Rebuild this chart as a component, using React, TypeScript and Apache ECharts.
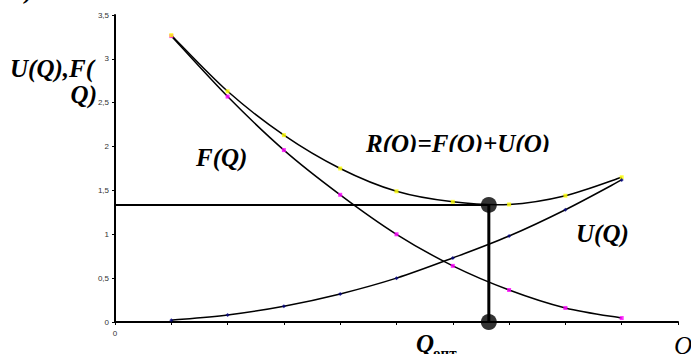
import React, { useEffect, useRef } from "react";
import * as echarts from "echarts";

const qValues = [1, 2, 3, 4, 5, 6, 7, 8, 9];
const fValues = [3.26, 2.57, 1.96, 1.45, 1.0, 0.64, 0.365, 0.16, 0.045];
const uValues = [0.02, 0.08, 0.18, 0.32, 0.5, 0.73, 0.98, 1.28, 1.62];
const rValues = [3.27, 2.63, 2.13, 1.75, 1.49, 1.37, 1.34, 1.44, 1.65];
const optQ = 6.64;
const optR = 1.335;
const yTicks = [0, 0.5, 1, 1.5, 2, 2.5, 3, 3.5];

const SERIF = "'Liberation Serif', 'Times New Roman', serif";
const SANS = "'Liberation Sans', Arial, sans-serif";

export default function App() {
  const ref = useRef<HTMLDivElement>(null);
  useEffect(() => {
    if (!ref.current) return;
    const chart = echarts.init(ref.current, null, { renderer: "svg" });
    const pts = (ys: number[]) => qValues.map((q, i) => [q, ys[i]]);

    // smooth curve through the points (Catmull-Rom segments as bezier curves)
    const curveSeries = (ys: number[]) => ({
      type: "custom",
      data: pts(ys),
      z: 3,
      silent: true,
      renderItem: (params: any, api: any) => {
        const i = params.dataIndex;
        const n = qValues.length;
        if (i >= n - 1) return null;
        const c = (k: number) => {
          const kk = Math.max(0, Math.min(n - 1, k));
          return api.coord([qValues[kk], ys[kk]]);
        };
        const p0 = c(i - 1);
        const p1 = c(i);
        const p2 = c(i + 1);
        const p3 = c(i + 2);
        const t = 6;
        const cp1 = [p1[0] + (p2[0] - p0[0]) / t, p1[1] + (p2[1] - p0[1]) / t];
        const cp2 = [p2[0] - (p3[0] - p1[0]) / t, p2[1] - (p3[1] - p1[1]) / t];
        return {
          type: "bezierCurve",
          shape: {
            x1: p1[0],
            y1: p1[1],
            x2: p2[0],
            y2: p2[1],
            cpx1: cp1[0],
            cpy1: cp1[1],
            cpx2: cp2[0],
            cpy2: cp2[1],
          },
          style: { stroke: "#000", lineWidth: 1.5, fill: null },
        };
      },
    });
    const markerSeries = (ys: number[], color: string, symbol: string) => ({
      type: "scatter",
      data: pts(ys),
      symbol,
      symbolSize: 4,
      itemStyle: { color },
      z: 4,
    });
    const bigText = (text: string, x: number, y: number, size = 25, align = "left", bold = true, italic = true) => ({
      type: "text",
      x,
      y,
      z: 100,
      style: {
        text,
        fill: "#000",
        font: `${italic ? "italic " : ""}${bold ? "bold " : ""}${size}px ${SERIF}`,
        textAlign: align,
        textVerticalAlign: "middle",
      },
    });
    chart.setOption({
      animation: false,
      backgroundColor: "#fff",
      grid: { left: 115, top: 15, right: 13, bottom: 32, containLabel: false },
      xAxis: {
        type: "value",
        min: 0,
        max: 10,
        interval: 1,
        axisLine: { show: true, lineStyle: { color: "#000", width: 2 } },
        axisTick: { show: true, length: 3, lineStyle: { color: "#000", width: 1 } },
        axisLabel: {
          formatter: (v: number) => (v === 0 ? "0" : ""),
          color: "#333",
          fontSize: 8,
          fontFamily: SANS,
          margin: 7,
        },
        splitLine: { show: false },
      },
      yAxis: {
        type: "value",
        min: 0,
        max: 3.5,
        interval: 0.5,
        axisLine: { show: true, lineStyle: { color: "#000", width: 2 } },
        axisTick: { show: true, length: 3, lineStyle: { color: "#000", width: 1 } },
        axisLabel: {
          formatter: (v: number) => (yTicks.includes(v) ? String(v).replace(".", ",") : ""),
          color: "#333",
          fontSize: 8,
          fontFamily: SANS,
          margin: 6,
        },
        splitLine: { show: false },
      },
      series: [
        curveSeries(fValues),
        curveSeries(rValues),
        curveSeries(uValues),
        markerSeries(fValues, "#ff00ff", "rect"),
        markerSeries(rValues, "#ffff00", "rect"),
        markerSeries(uValues, "#000080", "diamond"),
        {
          type: "line",
          data: [[0, optR], [optQ, optR]],
          symbol: "none",
          lineStyle: { color: "#000", width: 2 },
          z: 4,
        },
        {
          type: "line",
          data: [[optQ, optR], [optQ, 0]],
          symbol: "none",
          lineStyle: { color: "#000", width: 3 },
          z: 4,
        },
        {
          type: "scatter",
          data: [[optQ, optR], [optQ, 0]],
          symbol: "circle",
          symbolSize: 16,
          itemStyle: { color: "#000" },
          z: 5,
        },
      ],
      graphic: [
        bigText(")", 25, -9, 24),
        bigText("U(Q),F(", 10, 68, 25),
        bigText("Q)", 97, 94, 25, "right"),
        bigText("F(Q)", 196, 157, 25),
        bigText("R(O)=F(O)+U(O)", 366, 143, 25),
        {
          type: "rect",
          shape: { x: 355, y: 152, width: 220, height: 8 },
          style: { fill: "#fff" },
          z: 101,
        },
        bigText("U(Q)", 576, 233, 25),
        bigText("Q", 416, 343, 25),
        bigText("опт.", 433, 353, 15, "left", true, false),
        bigText("Q", 674, 345, 25, "left", false, true),
      ],
    });
    return () => chart.dispose();
  }, []);
  return (
    <div
      ref={ref}
      style={{ position: "fixed", left: 0, top: 0, width: 691, height: 354, background: "#fff" }}
    />
  );
}
